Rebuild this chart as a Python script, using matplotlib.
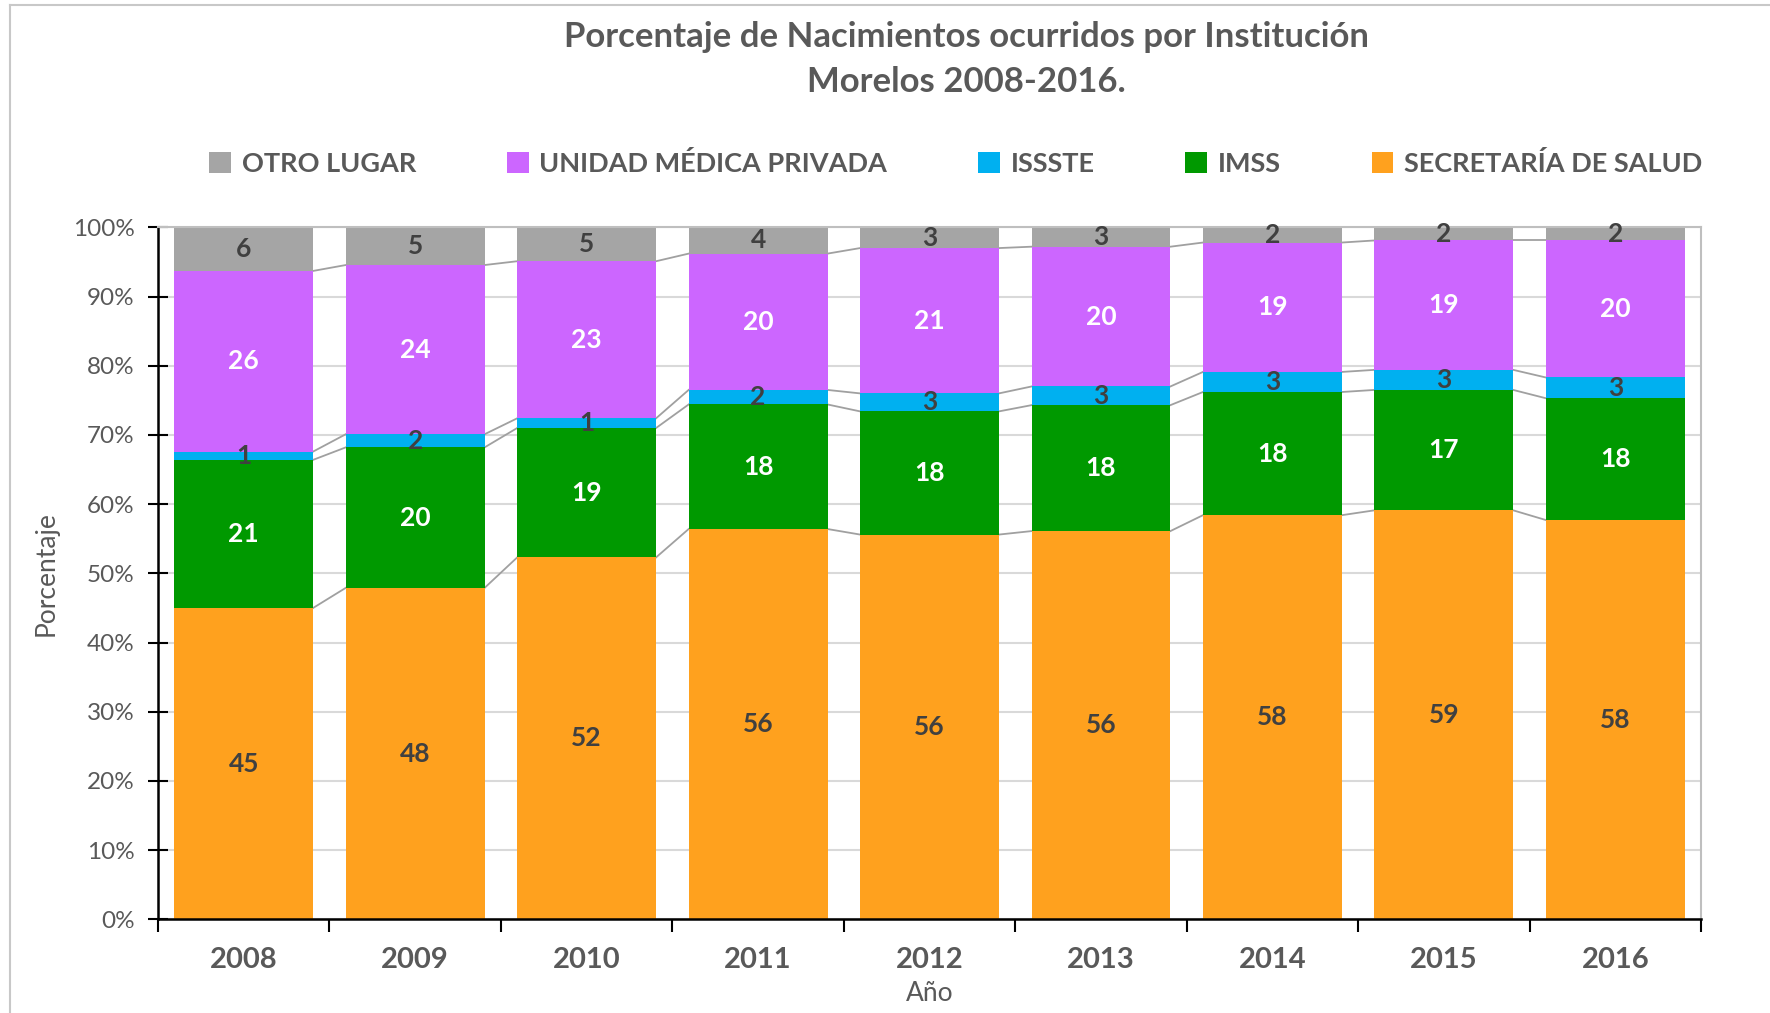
import numpy as np
import matplotlib
matplotlib.use("Agg")
import matplotlib.pyplot as plt
from matplotlib.lines import Line2D

plt.rcParams['font.family'] = ['Lato', 'DejaVu Sans']

# data (percent of births by institution)
years = ['2008', '2009', '2010', '2011', '2012', '2013', '2014', '2015', '2016']
secretaria = [45.0, 47.9, 52.3, 56.4, 55.6, 56.1, 58.4, 59.1, 57.7]
imss = [21.4, 20.3, 18.7, 18.0, 17.8, 18.2, 17.8, 17.4, 17.6]
issste = [1.2, 1.9, 1.4, 2.1, 2.6, 2.7, 2.9, 2.9, 3.0]
privada = [26.1, 24.45, 22.7, 19.7, 21.0, 20.2, 18.7, 18.7, 19.8]
otro = [6.3, 5.45, 4.9, 3.8, 3.0, 2.8, 2.2, 1.9, 1.9]

series = [
    ('SECRETARÍA DE SALUD', secretaria, '#FFA11E', '#404040'),
    ('IMSS', imss, '#009900', 'white'),
    ('ISSSTE', issste, '#00B0F0', '#404040'),
    ('UNIDAD MÉDICA PRIVADA', privada, '#CC66FF', 'white'),
    ('OTRO LUGAR', otro, '#A5A5A5', '#404040'),
]

fig = plt.figure(figsize=(17.7, 10.13), dpi=100)
ax = fig.add_axes([0.0893, 0.0925, 0.8717, 0.6831])

x = np.arange(len(years))
w = 0.81
bottom = np.zeros(len(years))
handles = []
for name, vals, col, tcol in series:
    vals = np.array(vals)
    b = ax.bar(x, vals, w, bottom=bottom, color=col, edgecolor='none', zorder=2, label=name)
    handles.append(b)
    for xi, v, bt in zip(x, vals, bottom):
        ax.text(xi, bt + v / 2, '{:.0f}'.format(v), ha='center', va='center',
                color=tcol, fontsize=19, fontweight='bold', zorder=4)
    top = bottom + vals
    # series lines
    if name != 'OTRO LUGAR':
        for i in range(len(years) - 1):
            ax.plot([x[i] + w / 2, x[i + 1] - w / 2], [top[i], top[i + 1]],
                    color='#A0A0A0', lw=1.3, zorder=1)
    bottom = top

ax.set_xlim(-0.5, len(years) - 0.5)
ax.set_ylim(0, 100)
ax.set_yticks(np.arange(0, 101, 10))
ax.set_yticklabels(['{}%'.format(v) for v in range(0, 101, 10)], fontsize=17.5, color='#595959')
ax.yaxis.grid(True, color='#D9D9D9', lw=1.5, zorder=0)
ax.set_axisbelow(True)

ax.set_xticks(x)
ax.set_xticklabels(years, fontsize=21, fontweight='bold', color='#595959')
ax.set_xticks(np.arange(-0.5, len(years), 1), minor=True)
ax.tick_params(axis='x', which='major', length=0, pad=20)
ax.tick_params(axis='x', which='minor', length=9, width=1.5, direction='out', color='black')
ax.tick_params(axis='y', length=14, width=1.5, direction='inout', color='black', pad=10)

for s in ['left', 'bottom']:
    ax.spines[s].set_color('black')
    ax.spines[s].set_linewidth(1.8)
for s in ['top', 'right']:
    ax.spines[s].set_color('#BFBFBF')
    ax.spines[s].set_linewidth(1.5)

ax.set_ylabel('Porcentaje', fontsize=19, color='#595959', labelpad=10)
ax.set_xlabel('Año', fontsize=19, color='#595959', labelpad=6)

fig.text(0.546, 0.963, 'Porcentaje de Nacimientos ocurridos por Institución',
         ha='center', va='center', fontsize=25, fontweight='bold', color='#595959')
fig.text(0.546, 0.919, 'Morelos 2008-2016.',
         ha='center', va='center', fontsize=25, fontweight='bold', color='#595959')

leg = fig.legend(handles[::-1], [s[0] for s in series][::-1], ncol=5,
                 loc='center', bbox_to_anchor=(0.540, 0.839), frameon=False,
                 prop={'size': 19.5, 'weight': 'bold'}, handlelength=0.8, handleheight=0.8,
                 handletextpad=0.4, columnspacing=3.35)
for t in leg.get_texts():
    t.set_color('#595959')

# chart area border (left and top visible)
fig.add_artist(Line2D([10 / 1770, 10 / 1770], [0, 1 - 5 / 1013], transform=fig.transFigure,
                      color='#C8C8C8', lw=1.5))
fig.add_artist(Line2D([10 / 1770, 1], [1 - 5 / 1013, 1 - 5 / 1013], transform=fig.transFigure,
                      color='#C8C8C8', lw=1.5))

fig.savefig('out.png', dpi=100)
